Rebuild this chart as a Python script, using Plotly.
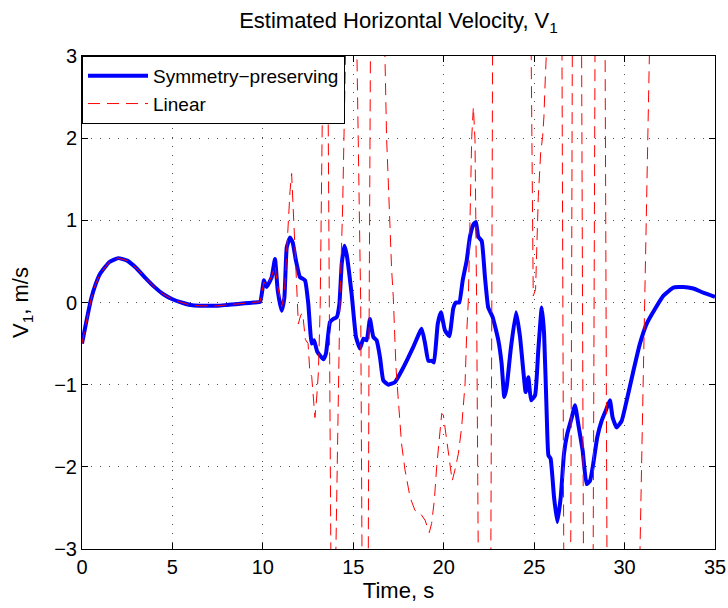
import plotly.graph_objects as go

# ---- data ----
sym_t = [0.0, 0.25, 0.5, 0.75, 1.0, 1.5, 2.0, 2.5, 3.0, 3.5, 4.0, 4.5, 5.0, 5.5, 6.0, 6.5, 7.0, 7.5,
         8.0, 8.5, 9.0, 9.5, 9.85, 10.06, 10.21, 10.49, 10.67, 10.82, 11.04, 11.19, 11.32, 11.5,
         11.65, 11.83, 12.05, 12.33, 12.51, 12.7, 12.83, 13.01, 13.35, 13.49, 13.71, 13.9, 14.08,
         14.23, 14.36, 14.51, 14.63, 14.91, 15.15, 15.37, 15.56, 15.74, 15.92, 16.11, 16.29, 16.48,
         16.66, 16.94, 17.3, 17.77, 18.32, 18.78, 18.97, 19.15, 19.34, 19.46, 19.67, 19.85, 20.07,
         20.31, 20.53, 20.68, 20.86, 21.05, 21.27, 21.45, 21.64, 21.78, 21.91, 22.1, 22.28, 22.46,
         22.71, 23.02, 23.2, 23.35, 23.48, 23.7, 24.0, 24.22, 24.4, 24.53, 24.68, 24.83, 25.05,
         25.23, 25.42, 25.55, 25.7, 25.79, 25.91, 26.1, 26.28, 26.47, 26.65, 26.83, 27.08, 27.26,
         27.44, 27.68, 27.9, 28.09, 28.27, 28.49, 28.73, 28.97, 29.19, 29.34, 29.56, 29.84, 30.12,
         30.49, 30.85, 31.22, 31.68, 32.14, 32.7, 33.25, 33.8, 34.35, 35.0]
sym_v = [-0.50, -0.22, 0.04, 0.22, 0.35, 0.49, 0.54, 0.51, 0.42, 0.30, 0.19, 0.10, 0.04, 0.00,
         -0.03, -0.04, -0.04, -0.04, -0.03, -0.02, -0.01, 0.00, 0.01, 0.27, 0.19, 0.31, 0.53, 0.15,
         -0.10, 0.06, 0.67, 0.79, 0.73, 0.51, 0.31, 0.27, -0.01, -0.50, -0.46, -0.60, -0.69, -0.62,
         -0.24, -0.20, -0.18, -0.02, 0.47, 0.69, 0.59, 0.10, -0.42, -0.56, -0.44, -0.46, -0.20,
         -0.42, -0.46, -0.67, -0.95, -1.00, -0.97, -0.79, -0.54, -0.32, -0.50, -0.71, -0.71, -0.73,
         -0.26, -0.12, -0.34, -0.41, -0.07, 0.00, 0.00, 0.27, 0.51, 0.80, 0.95, 0.98, 0.80, 0.75,
         0.31, -0.06, -0.18, -0.46, -0.74, -1.15, -1.03, -0.58, -0.12, -0.42, -0.83, -1.09, -0.91,
         -1.19, -1.13, -0.58, -0.06, -0.38, -1.40, -1.86, -1.90, -2.37, -2.67, -2.37, -1.84, -1.60,
         -1.40, -1.25, -1.48, -1.80, -2.21, -2.17, -1.96, -1.64, -1.44, -1.31, -1.19, -1.40, -1.52,
         -1.44, -1.19, -0.83, -0.50, -0.26, -0.08, 0.08, 0.18, 0.19, 0.17, 0.12, 0.07]

lin_t = [0.0, 0.25, 0.5, 0.75, 1.0, 1.5, 2.0, 2.5, 3.0, 3.5, 4.0, 4.5, 5.0, 5.5, 6.0, 6.5, 7.0, 7.5,
         8.0, 8.5, 9.0, 9.5, 9.85, 10.06, 10.21, 10.49, 10.67, 10.82, 11.04, 11.19, 11.35, 11.5,
         11.59, 11.7, 11.8, 11.9, 11.96, 12.1, 12.2, 12.35, 12.5, 12.6, 12.7, 12.79, 12.88, 12.98,
         13.07, 13.17, 13.32, 13.4, 13.55, 13.62, 13.67, 13.74, 13.8, 14.0, 14.04, 14.17, 14.26,
         14.41, 14.54, 14.62, 14.7, 15.1, 15.19, 15.3, 15.41, 15.48, 15.55, 15.78, 15.83, 15.88,
         15.93, 15.98, 16.7, 16.75, 16.84, 16.99, 17.12, 17.21, 17.36, 17.49, 17.67, 17.86, 18.14,
         18.41, 18.69, 18.97, 19.2, 19.33, 19.48, 19.61, 19.74, 19.89, 19.98, 20.13, 20.25, 20.47,
         20.62, 20.81, 20.99, 21.18, 21.27, 21.36, 21.45, 21.55, 21.64, 21.73, 21.82, 21.88, 21.95,
         22.58, 22.62, 22.66, 22.7, 22.74, 24.78, 24.83, 24.9, 24.95, 25.08, 25.14, 25.23, 25.32,
         25.36, 25.47, 25.54, 25.62, 25.67, 25.75, 26.5, 26.54, 26.58, 26.62, 26.66, 27.0, 27.03,
         27.07, 27.11, 27.15, 27.6, 27.63, 27.67, 27.71, 27.75, 28.24, 28.27, 28.31, 28.35, 28.39,
         28.9, 28.93, 28.97, 29.01, 29.05, 30.75, 30.85, 31.03, 31.13, 31.22, 31.31, 31.37, 31.5,
         33.0, 35.0]
lin_v = [-0.50, -0.22, 0.04, 0.22, 0.35, 0.49, 0.54, 0.51, 0.42, 0.30, 0.19, 0.10, 0.04, 0.00,
         -0.03, -0.04, -0.04, -0.04, -0.03, -0.02, -0.01, 0.00, 0.01, 0.25, 0.20, 0.32, 0.45, 0.20,
         -0.05, 0.10, 0.80, 1.35, 1.57, 1.10, 0.55, 0.05, -0.26, -0.15, -0.13, -0.45, -0.50, -0.85,
         -0.90, -1.15, -1.40, -1.15, -0.85, -0.05, 2.90, 4.50, 4.50, 2.20, 0.00, -3.00, -4.50, -4.50,
         -3.00, -1.20, 0.00, 1.15, 2.22, 3.00, 4.50, 4.50, 3.00, 1.50, 0.00, -3.00, -4.50, -4.50,
         -3.00, 0.00, 3.00, 4.50, 4.50, 3.00, 2.02, 1.05, 0.40, 0.07, -0.79, -1.19, -1.72, -2.04,
         -2.37, -2.53, -2.56, -2.65, -2.80, -2.69, -2.41, -2.00, -1.68, -1.35, -1.37, -1.60, -1.84,
         -2.17, -2.04, -1.84, -1.52, -0.99, -0.38, 0.02, 0.97, 2.02, 2.38, 1.98, 0.00, -3.00, -4.50,
         -4.50, -3.00, 0.00, 3.00, 4.50, 4.50, 3.00, 0.60, 0.08, 0.16, 0.72, 1.29, 1.65, 1.82, 2.02,
         2.26, 2.75, 3.00, 4.50, 4.50, 3.00, 0.00, -3.00, -4.50, -4.50, -3.00, 0.00, 3.00, 4.50,
         4.50, 3.00, 0.00, -3.00, -4.50, -4.50, -3.00, 0.00, 3.00, 4.50, 4.50, 3.00, 0.00, -3.00,
         -4.50, -4.20, -3.00, -1.00, 0.00, 1.04, 2.05, 3.00, 4.50, 6.00, 6.00]

x_ticks = [0, 5, 10, 15, 20, 25, 30, 35]
y_ticks = [-3, -2, -1, 0, 1, 2, 3]

FONT = "Liberation Sans, Arial, sans-serif"

fig = go.Figure()
fig.add_trace(go.Scatter(
    x=sym_t, y=sym_v, mode="lines", name="Symmetry\u2212preserving",
    line=dict(color="#0000ff", width=4, shape="spline", smoothing=0.4)))
fig.add_trace(go.Scatter(
    x=lin_t, y=lin_v, mode="lines", name="Linear",
    line=dict(color="#ff0000", width=1, dash="12px,7px")))

axis_common = dict(
    showline=True, linecolor="black", linewidth=1, mirror="ticks",
    ticks="inside", ticklen=6, tickcolor="black", automargin=False,
    showgrid=True, gridcolor="#505050", gridwidth=1, griddash="1px,8px",
    zeroline=False, tickfont=dict(family=FONT, size=20, color="black"),
)

fig.update_xaxes(range=[0, 35], tickvals=x_ticks, **axis_common,
                 title=dict(text="Time, s", font=dict(family=FONT, size=22, color="black"), standoff=5))
fig.update_yaxes(range=[-3, 3], tickvals=y_ticks, **axis_common,
                 title=dict(text="V<sub>1</sub>, m/s", font=dict(family=FONT, size=22, color="black"), standoff=19))

fig.update_layout(
    width=728, height=608,
    margin=dict(l=82, r=13, t=56, b=59),
    paper_bgcolor="white", plot_bgcolor="white",
    font=dict(family=FONT, color="black"),
    title=dict(text="Estimated Horizontal Velocity, V<sub>1</sub>",
               x=0.5, xref="paper", xanchor="center",
               y=1, yref="paper", yanchor="bottom", pad=dict(b=28),
               font=dict(family=FONT, size=22, color="black")),
    legend=dict(x=0, y=1, xanchor="left", yanchor="top", bgcolor="white",
                bordercolor="black", borderwidth=1, itemwidth=60,
                font=dict(family=FONT, size=19, color="black"), tracegroupgap=0),
    showlegend=True,
)

fig.write_html("out.html")
